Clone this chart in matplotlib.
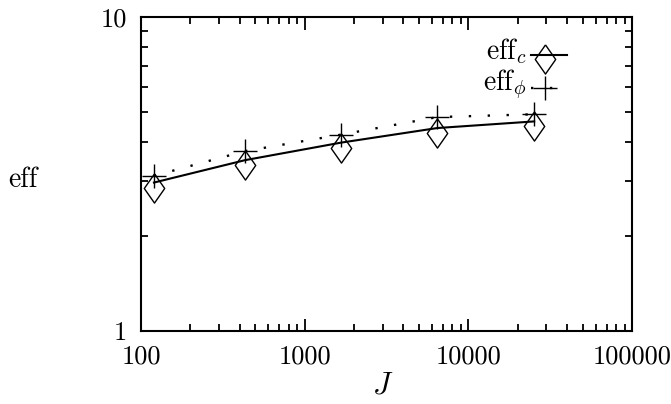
import matplotlib
matplotlib.use('Agg')
import matplotlib.pyplot as plt
import matplotlib.transforms as mtransforms
from matplotlib.ticker import FixedLocator, FixedFormatter, NullFormatter

plt.rcParams['font.family'] = 'cmr10'
plt.rcParams['mathtext.fontset'] = 'cm'
plt.rcParams['axes.formatter.use_mathtext'] = True

# data
J = [120, 432, 1667, 6470, 25250]
eff_c = [2.97, 3.50, 3.98, 4.43, 4.65]
eff_phi = [3.12, 3.74, 4.22, 4.80, 4.90]

x_ticks = [100, 1000, 10000, 100000]
x_labels = ['100', '1000', '10000', '100000']
y_ticks = [1, 10]
y_labels = ['1', '10']

FS = 19

fig = plt.figure(figsize=(6.71, 4.04), dpi=100)
ax = fig.add_axes([141 / 671, 73 / 404, 491 / 671, 314 / 404])
ax.set_xscale('log')
ax.set_yscale('log')
ax.set_xlim(100, 100000)
ax.set_ylim(1, 10)

diamond = [(0, 1), (0.7, 0), (0, -1), (-0.7, 0), (0, 1)]
# gnuplot's latex points sit a little below the curve
down = mtransforms.offset_copy(ax.transData, fig=fig, x=0, y=-5, units='dots')

ax.plot(J, eff_c, color='black', lw=1.5)
ax.plot(J, eff_c, linestyle='none', marker=diamond, ms=21, mfc='none',
        mec='black', mew=1.0, transform=down)
ax.plot(J, eff_phi, color='black', lw=1.7, linestyle=(0, (1, 7)),
        marker='+', ms=17, mew=1.0)

# key, drawn by hand like gnuplot
ax.text(0.785, 0.89, r'$\mathrm{eff}_c$', transform=ax.transAxes,
        ha='right', va='center', fontsize=FS + 1)
ax.text(0.785, 0.785, r'$\mathrm{eff}_\phi$', transform=ax.transAxes,
        ha='right', va='center', fontsize=FS + 1)
ax.plot([0.795, 0.868], [0.88, 0.88], color='black', lw=1.5,
        transform=ax.transAxes, clip_on=False)
ax.plot([0.823], [0.865], marker=diamond, ms=21, mfc='none', mec='black',
        mew=1.0, transform=ax.transAxes, clip_on=False)
ax.plot([0.795, 0.868], [0.775, 0.775], color='black', lw=1.7,
        linestyle=(0, (1, 7)), transform=ax.transAxes, clip_on=False)
ax.plot([0.823], [0.775], marker='+', ms=17, mew=1.0, color='black',
        transform=ax.transAxes, clip_on=False)

ax.xaxis.set_major_locator(FixedLocator(x_ticks))
ax.xaxis.set_major_formatter(FixedFormatter(x_labels))
ax.xaxis.set_minor_formatter(NullFormatter())
ax.yaxis.set_major_locator(FixedLocator(y_ticks))
ax.yaxis.set_major_formatter(FixedFormatter(y_labels))
ax.yaxis.set_minor_formatter(NullFormatter())

ax.tick_params(which='both', direction='in', top=True, right=True,
               labelsize=FS, width=1.3)
ax.tick_params(which='major', length=9, pad=10)
ax.tick_params(which='minor', length=5)
for s in ax.spines.values():
    s.set_linewidth(1.5)

fig.text(383 / 671, 1 - 386 / 404, r'$J$', ha='center', va='center', fontsize=FS + 3)
fig.text(23 / 671, 1 - 180 / 404, 'eff', ha='center', va='center', fontsize=FS + 1)

fig.savefig('out.png', dpi=100)
